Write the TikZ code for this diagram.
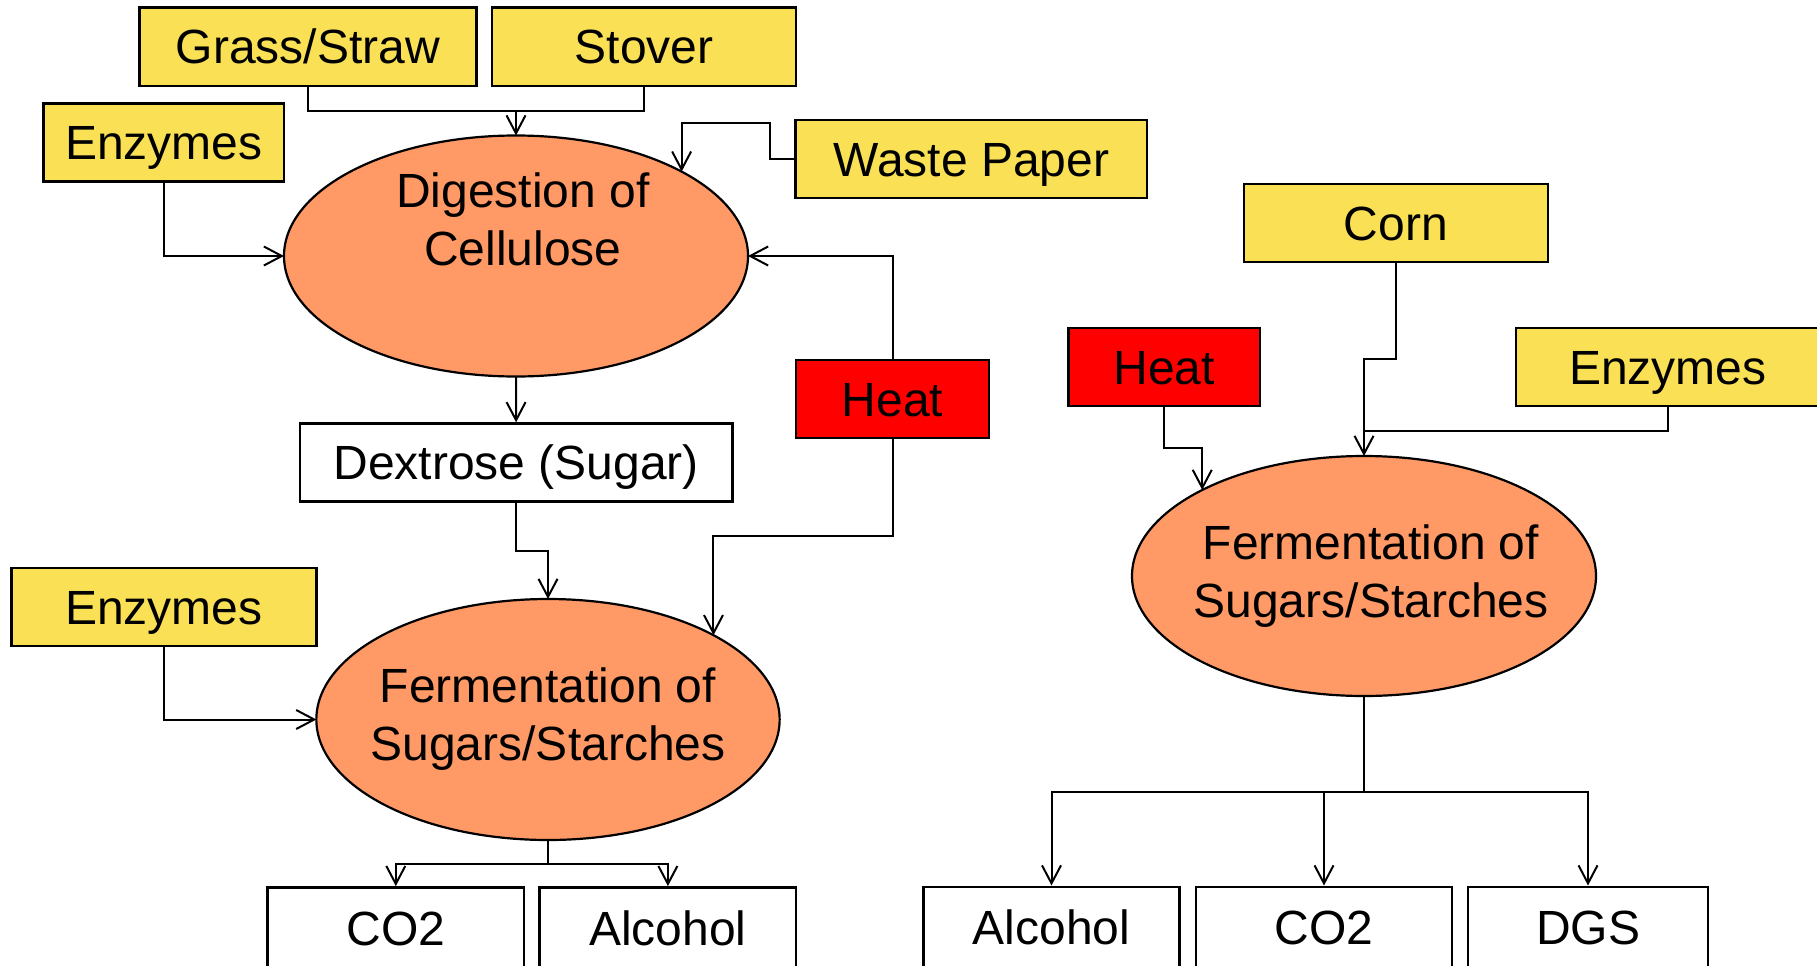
\documentclass[tikz,border=0pt]{standalone}
\usepackage{fontspec}
\setmainfont{Liberation Sans}
\usetikzlibrary{shapes.geometric,arrows.meta,calc}
\definecolor{yel}{RGB}{249,224,85}
\definecolor{ora}{RGB}{255,153,102}
\definecolor{hot}{RGB}{255,0,0}
\begin{document}
\begin{tikzpicture}[x=1pt,y=-1pt,
  every node/.style={font=\fontsize{48}{58}\selectfont},
  boxbase/.style={draw, line width=2.4pt, minimum height=78pt, inner sep=0pt, text height=34.5pt, text depth=0pt},
  ybox/.style={boxbase, fill=yel},
  rbox/.style={boxbase, fill=hot},
  wbox/.style={boxbase, fill=white},
  proc/.style={ellipse, draw, line width=2.2pt, fill=ora, inner sep=0pt, outer sep=0pt},
  ptext/.style={align=center, inner sep=0pt},
  conn/.style={line width=2pt, -{Straight Barb[length=18pt,width=19pt]}},
  link/.style={line width=2pt}]
\useasboundingbox (0,0) rectangle (1817,966);

% left branch
\node[ybox, minimum width=337pt] (grass) at (308,46.7) {Grass/Straw};
\node[ybox, minimum width=304pt] (stover) at (644,46.7) {Stover};
\node[ybox, minimum width=240.4pt] (enzA) at (163.8,142.5) {Enzymes};
\node[ybox, minimum width=351.4pt] (waste) at (971.3,159) {Waste Paper};
\node[proc, minimum width=464pt, minimum height=241pt] (dig) at (516,256) {};
\node[ptext] (digT) at (523,219) {Digestion of\\Cellulose};
\node[rbox, minimum width=193pt] (heatA) at (892.5,399) {Heat};
\node[wbox, minimum width=432.8pt] (dex) at (516.1,462.5) {Dextrose (Sugar)};
\node[ybox, minimum width=304.8pt] (enzB) at (163.9,606.9) {Enzymes};
\node[proc, minimum width=463.3pt, minimum height=241pt] (fermL) at (548,719.5) {};
\node[ptext] (fermLT) at (548,719.5) {Fermentation of\\Sugars/Starches};
\node[wbox, minimum width=256.5pt, minimum height=82pt] (co2L) at (395.8,928.3) {CO2};
\node[wbox, minimum width=256.6pt, minimum height=82pt] (alcL) at (667.9,928.3) {Alcohol};

% right branch
\node[ybox, minimum width=304pt] (corn) at (1396,223) {Corn};
\node[rbox, minimum width=191.8pt] (heatB) at (1164.3,366.8) {Heat};
\node[ybox, minimum width=304pt] (enzC) at (1667.8,366.8) {Enzymes};
\node[proc, minimum width=464pt, minimum height=240pt] (fermR) at (1364,576) {};
\node[ptext] (fermRT) at (1371,576) {Fermentation of\\Sugars/Starches};
\node[wbox, minimum width=256pt, minimum height=82pt] (alcR) at (1051.5,927.7) {Alcohol};
\node[wbox, minimum width=256pt, minimum height=82pt] (co2R) at (1324,927.7) {CO2};
\node[wbox, minimum width=240.4pt, minimum height=82pt] (dgs) at (1588,927.7) {DGS};

% connectors, left
\coordinate (j1) at (dig.north |- 0,110.7);
\draw[link] (grass.south) |- (j1) -| (stover.south);
\draw[conn] (j1) -- (dig.north);
\draw[conn] (waste.west) -- ++(-24,0) |- (dig.27.55 |- 0,123.3) -- (dig.27.55);
\draw[conn] (enzA.south) |- (dig.west);
\draw[conn] (heatA.north) |- (dig.east);
\draw[conn] (dig.south) -- (dex.north);
\draw[conn] (dex.south) |- (fermL.north |- 0,550.7) -- (fermL.north);
\draw[conn] (heatA.south) |- (fermL.27.5 |- 0,536) -- (fermL.27.5);
\draw[conn] (enzB.south) |- (fermL.west);
\coordinate (jL) at (fermL.south |- 0,864.3);
\draw[link] (fermL.south) -- (jL);
\draw[conn] (jL) -| (co2L.north);
\draw[conn] (jL) -| (alcL.north);

% connectors, right
\draw[conn] (corn.south) |- (fermR.north |- 0,358.6) -- (fermR.north);
\draw[link] (enzC.south) |- (fermR.north |- 0,431);
\draw[conn] (heatB.south) |- (fermR.152.6 |- 0,448.2) -- (fermR.152.6);
\coordinate (jR) at (fermR.south |- 0,792);
\draw[link] (fermR.south) -- (jR);
\draw[conn] (jR) -| (alcR.north);
\draw[conn] (jR) -| (co2R.north);
\draw[conn] (jR) -| (dgs.north);
\end{tikzpicture}
\end{document}
